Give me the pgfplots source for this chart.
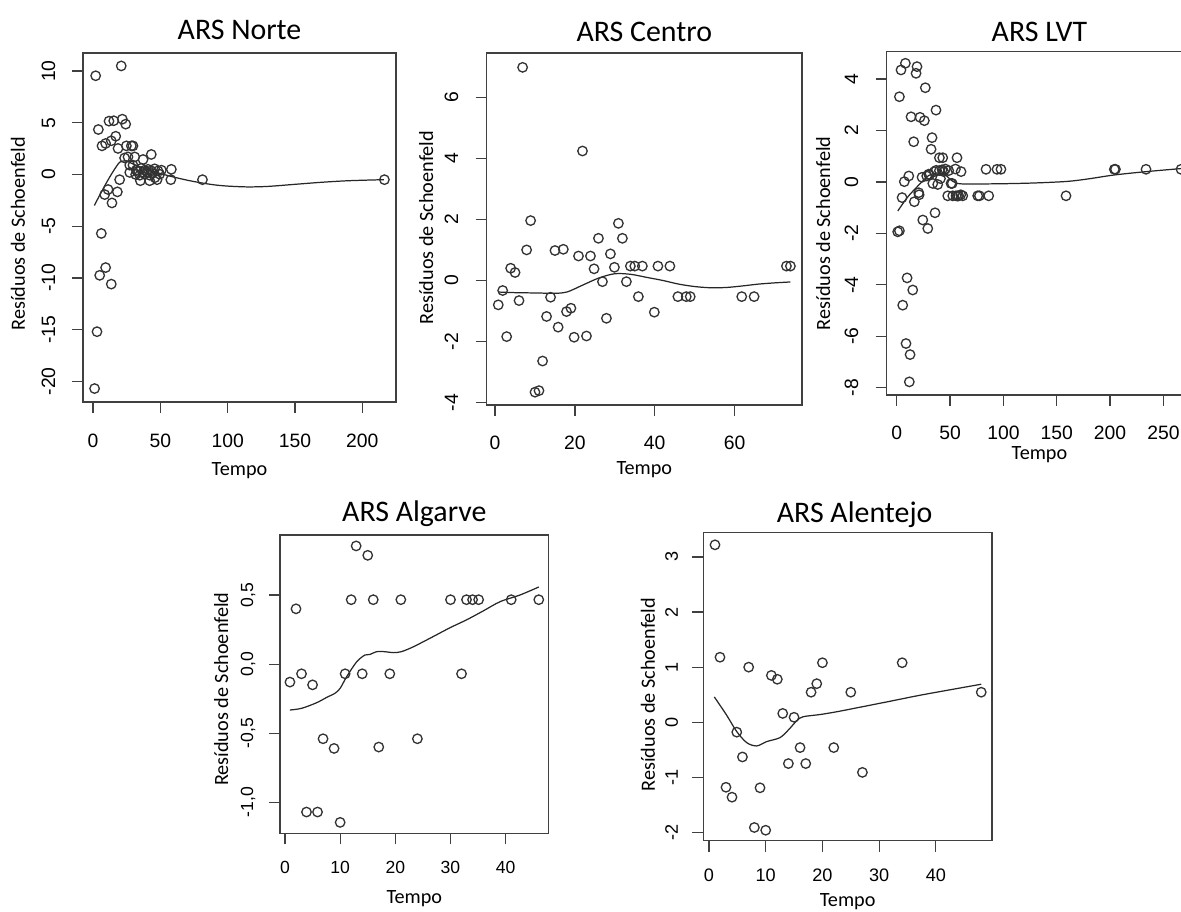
\documentclass[border=0pt]{standalone}
\usepackage{fontspec}
\setmainfont{Carlito}
\newfontfamily\ticksf{Liberation Sans}
\usepackage{pgfplots}
\pgfplotsset{compat=1.18}

% 1 px of the reference = 0.02cm
\pgfplotsset{
  rplot/.style={
    scale only axis,
    axis line style={draw=black!75, line width=0.8pt},
    tick style={draw=black!75, line width=0.7pt},
    tick align=outside,
    major tick length=0.22cm,
    tick pos=left,
    tick label style={font=\ticksf\fontsize{11}{13}\selectfont},
    xticklabel style={anchor=base},
    yticklabel style={rotate=90, anchor=base},
    every axis title/.style={at={(axis description cs:0.5,1)}, anchor=base,
      font=\fontsize{17}{20}\selectfont},
    xlabel style={font=\fontsize{11.5}{13}\selectfont, at={(axis description cs:0.5,0)}, anchor=base},
    % rotated: xshift moves along the axis, yshift moves away to the left
    every axis y label/.style={at={(axis description cs:0,0.5)}, anchor=base, rotate=90,
      font=\fontsize{11.5}{13}\selectfont},
  },
  pts/.style={only marks, mark=o, mark size=2.7pt,
    mark options={draw=black!80, line width=0.75pt}},
  fit/.style={no marks, draw=black!85, line width=0.7pt, smooth},
}

\begin{document}
\begin{tikzpicture}
\path[use as bounding box] (0,0) rectangle (23.62cm,-18.22cm);
\clip (0,0) rectangle (23.62cm,-18.22cm);

% ---- ARS Norte
\begin{axis}[rplot,
  at={(1.66cm,-1.06cm)}, anchor=north west,
  width=6.26cm, height=6.98cm,
  xmin=-7.4, xmax=225, ymin=-22, ymax=11.75,
  xtick={0,50,100,150,200}, xticklabels={0,50,100,150,200},
  ytick={-20,-15,-10,-5,0,5,10}, yticklabels={-20,-15,-10,-5,0,5,10},
  xticklabel shift=0.68cm, yticklabel shift=0.34cm,
  title={ARS Norte}, title style={yshift=0.27cm},
  xlabel={Tempo}, xlabel style={yshift=-1.46cm},
  ylabel={Resíduos de Schoenfeld}, ylabel style={yshift=1.16cm, xshift=-0.12cm},
]
\addplot[pts] coordinates {
(2.0,9.55)(21,10.5)(4,4.35)(11.9,5.16)(15.4,5.2)(21.8,5.35)(24.3,4.87)
(6.7,2.77)(9.4,3.0)(13.6,3.26)(16.9,3.7)(18.6,2.52)(24.8,2.77)(28.5,2.77)
(29.7,2.77)(23.5,1.6)(26,1.7)(31,1.7)(37.2,1.45)(43.3,1.94)(27.3,0.9)
(29.7,0.9)(32.2,0.42)(35.9,0.6)(38.4,0.42)(40.9,0.5)(43.3,0.35)(45.8,0.55)
(48.3,0.35)(50.8,0.42)(58.2,0.5)(34.7,-0.07)(38.4,0.03)(42.1,-0.07)
(49.5,0.03)(27.3,0.2)(31.7,0)(35.2,-0.6)(42.1,-0.6)(47.6,-0.5)(57.8,-0.5)
(81.3,-0.5)(19.8,-0.5)(11.2,-1.45)(8.7,-1.94)(18.1,-1.68)(14.1,-2.75)
(6.2,-5.7)(9.4,-9.0)(5,-9.75)(13.6,-10.6)(3,-15.2)(1.2,-20.7)(216.4,-0.5)
(33,0.3)(37,0.2)(44,0.1)(46,-0.3)(40,0.25)
};
\addplot[fit] coordinates {
(1,-3.0)(5,-2.0)(10,-0.8)(15,0.3)(20,1.2)(25,1.3)(30,1.0)(40,0.5)(50,0.1)
(60,-0.25)(70,-0.55)(80,-0.8)(90,-1.0)(100,-1.12)(115,-1.2)(130,-1.15)
(150,-0.95)(170,-0.75)(190,-0.6)(216,-0.5)
};
\end{axis}

% ---- ARS Centro
\begin{axis}[rplot,
  at={(9.734cm,-1.06cm)}, anchor=north west,
  width=6.306cm, height=7.04cm,
  xmin=-2.1, xmax=76.9, ymin=-4.08, ymax=7.45,
  xtick={0,20,40,60}, xticklabels={0,20,40,60},
  ytick={-4,-2,0,2,4,6}, yticklabels={-4,-2,0,2,4,6},
  xticklabel shift=0.68cm, yticklabel shift=0.35cm,
  title={ARS Centro}, title style={yshift=0.24cm},
  xlabel={Tempo}, xlabel style={yshift=-1.4cm},
  ylabel={Resíduos de Schoenfeld}, ylabel style={yshift=1.07cm, xshift=0.03cm},
]
\addplot[pts] coordinates {
(6.9,6.98)(21.9,4.24)(8.9,1.96)(7.9,1.0)(3.9,0.4)(5,0.26)(1.9,-0.33)
(0.8,-0.8)(6,-0.66)(2.9,-1.84)(13.9,-0.55)(12.9,-1.18)(15,0.98)(17.1,1.02)
(15.8,-1.53)(17.9,-1.02)(19,-0.91)(11.9,-2.64)(10,-3.66)(11,-3.61)
(19.8,-1.86)(22.9,-1.82)(20.9,0.8)(23.9,0.8)(25.9,1.38)(24.8,0.38)
(26.9,-0.04)(28.9,0.87)(27.9,-1.24)(29.9,0.43)(30.9,1.87)(31.9,1.38)
(32.9,-0.04)(33.9,0.47)(35,0.47)(36.9,0.47)(35.9,-0.53)(40.8,0.47)
(43.8,0.47)(39.9,-1.04)(45.8,-0.53)(47.9,-0.53)(48.9,-0.53)(61.8,-0.53)
(64.9,-0.53)(73,0.47)(74,0.47)
};
\addplot[fit] coordinates {
(0.8,-0.38)(5,-0.4)(10,-0.41)(15,-0.42)(18,-0.38)(22,-0.15)(26,0.08)
(30,0.22)(34,0.2)(38,0.1)(42,0)(46,-0.12)(50,-0.2)(54,-0.24)(58,-0.23)
(62,-0.18)(66,-0.12)(70,-0.08)(74,-0.05)
};
\end{axis}

% ---- ARS LVT
\begin{axis}[rplot,
  at={(17.734cm,-1.034cm)}, anchor=north west,
  width=6.11cm, height=6.866cm,
  xmin=-9.4, xmax=277, ymin=-8.28, ymax=5.06,
  xtick={0,50,100,150,200,250}, xticklabels={0,50,100,150,200,250},
  ytick={-8,-6,-4,-2,0,2,4}, yticklabels={-8,-6,-4,-2,0,2,4},
  xticklabel shift=0.68cm, yticklabel shift=0.35cm,
  title={ARS LVT}, title style={yshift=0.21cm},
  xlabel={Tempo}, xlabel style={yshift=-1.3cm},
  ylabel={Resíduos de Schoenfeld}, ylabel style={yshift=1.13cm, xshift=-0.2cm},
]
\addplot[pts] coordinates {
(8.1,4.61)(4,4.35)(19,4.48)(18.1,4.22)(26.8,3.66)(2.5,3.31)(36.8,2.79)
(13.4,2.53)(21.8,2.51)(25.9,2.38)(15.9,1.56)(33.1,1.72)(32.2,1.27)(40,0.94)
(43.1,0.94)(56.5,0.94)(83.7,0.49)(94,0.49)(97.7,0.49)(204,0.49)(205,0.49)
(233.7,0.49)(266.5,0.49)(23.7,0.18)(28.1,0.23)(30.6,0.27)(35.3,0.4)
(40,0.44)(42.5,0.47)(45.6,0.5)(48.7,0.44)(55,0.5)(60.3,0.4)(11.3,0.23)
(7.1,0.01)(5,-0.61)(20.6,-0.42)(16.5,-0.77)(21,-0.5)(33.8,-0.06)
(38.4,-0.1)(41,0.13)(50.9,-0.06)(52,-0.06)(47.8,-0.54)(52.5,-0.54)
(55.6,-0.54)(58.1,-0.54)(61.9,-0.54)(75.9,-0.54)(77.5,-0.54)(86.2,-0.54)
(158.7,-0.54)(35.9,-1.2)(24.4,-1.48)(29.1,-1.81)(0.9,-1.94)(2.5,-1.9)
(9.7,-3.73)(15,-4.2)(5.6,-4.79)(8.7,-6.28)(12.5,-6.71)(11.8,-7.77)
(30,0.3)(37,0.45)(44,0.4)(57,-0.55)(60,-0.5)
};
\addplot[fit] coordinates {
(1,-1.13)(10,-0.6)(20,-0.15)(30,0.25)(38,0.35)(45,0.3)(50,0.1)(57,-0.06)
(70,-0.08)(100,-0.07)(130,-0.04)(160,0.02)(180,0.12)(204,0.27)(234,0.4)
(267,0.52)
};
\end{axis}

% ---- ARS Algarve
\begin{axis}[rplot,
  at={(5.6cm,-10.7cm)}, anchor=north west,
  width=5.374cm, height=5.966cm,
  xmin=-0.9, xmax=47.8, ymin=-1.224, ymax=0.934,
  xtick={0,10,20,30,40}, xticklabels={0,10,20,30,40},
  ytick={-1,-0.5,0,0.5}, yticklabels={{-1,0},{-0,5},{0,0},{0,5}},
  tick label style={font=\ticksf\fontsize{10}{12}\selectfont},
  xticklabel shift=0.58cm, yticklabel shift=0.32cm,
  title={ARS Algarve}, title style={yshift=0.28cm},
  xlabel={Tempo}, xlabel style={yshift=-1.4cm},
  ylabel={Resíduos de Schoenfeld}, ylabel style={yshift=1.04cm, xshift=-0.1cm},
]
\addplot[pts] coordinates {
(0.9,-0.13)(2,0.40)(3,-0.07)(5,-0.15)(3.9,-1.07)(5.9,-1.07)(6.9,-0.54)
(8.9,-0.61)(10,-1.145)(10.9,-0.07)(12,0.466)(12.9,0.855)(14,-0.07)
(15,0.787)(16,0.466)(17,-0.6)(19,-0.07)(21,0.466)(24,-0.54)(30,0.466)
(32,-0.07)(32.9,0.466)(34,0.466)(35.1,0.466)(41,0.466)(46,0.466)
};
\addplot[fit] coordinates {
(0.9,-0.332)(3,-0.32)(5.7,-0.28)(7.6,-0.24)(9.1,-0.21)(10,-0.175)
(11.2,-0.09)(13,0.017)(14.5,0.066)(15.4,0.07)(16.6,0.09)(18.1,0.09)
(19.6,0.083)(21.1,0.09)(23.3,0.126)(26.9,0.2)(29.9,0.263)(32.9,0.32)
(35.9,0.384)(39,0.452)(42.6,0.5)(46,0.558)
};
\end{axis}

% ---- ARS Alentejo
\begin{axis}[rplot,
  at={(14.066cm,-10.654cm)}, anchor=north west,
  width=5.774cm, height=6.16cm,
  xmin=-1.0, xmax=49.9, ymin=-2.15, ymax=3.44,
  xtick={0,10,20,30,40}, xticklabels={0,10,20,30,40},
  ytick={-2,-1,0,1,2,3}, yticklabels={-2,-1,0,1,2,3},
  tick label style={font=\ticksf\fontsize{10.3}{12}\selectfont},
  xticklabel shift=0.6cm, yticklabel shift=0.29cm,
  title={ARS Alentejo}, title style={yshift=0.2cm, xshift=0.14cm},
  xlabel={Tempo}, xlabel style={yshift=-1.31cm},
  ylabel={Resíduos de Schoenfeld}, ylabel style={yshift=0.97cm, xshift=-0.16cm},
]
\addplot[pts] coordinates {
(1.06,3.22)(1.94,1.18)(3,-1.18)(4.06,-1.36)(4.9,-0.18)(5.9,-0.63)(7,1.0)
(8,-1.91)(9,-1.19)(10,-1.96)(11,0.85)(12.05,0.78)(13,0.16)(14,-0.75)
(15,0.09)(16.06,-0.46)(17.06,-0.75)(18,0.545)(19,0.70)(20,1.08)(22,-0.46)
(25,0.545)(27.05,-0.91)(34.06,1.08)(48,0.545)
};
\addplot[fit] coordinates {
(0.94,0.46)(3.1,0.13)(4.9,-0.17)(6.65,-0.37)(8.4,-0.43)(10.2,-0.35)
(12.5,-0.28)(14,-0.14)(15.5,0.03)(16.6,0.1)(19.6,0.14)(22.5,0.19)
(25.5,0.25)(31.4,0.37)(37.2,0.49)(43.1,0.6)(48,0.69)
};
\end{axis}
\end{tikzpicture}
\end{document}
